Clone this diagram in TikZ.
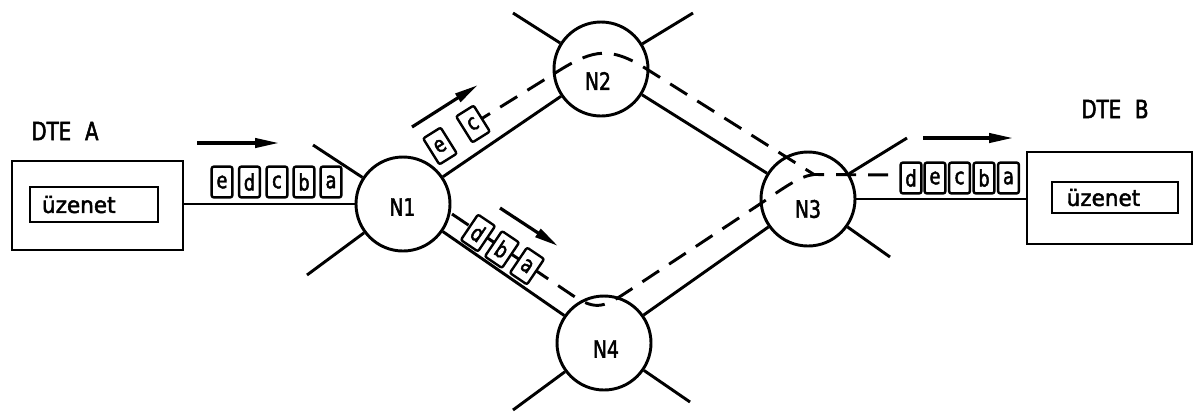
\documentclass[tikz,border=0pt]{standalone}
\usepackage{fontspec}
\setmainfont{DejaVu Sans}[FakeBold=1.6]
\newfontfamily\techfont{DejaVu Sans}[FakeStretch=0.78,WordSpace=2.2,FakeBold=2]
\newfontfamily\msgfont{DejaVu Sans}[FakeStretch=0.95,FakeBold=2]
\usetikzlibrary{arrows.meta}
\begin{document}
\begin{tikzpicture}[x=0.75pt,y=-0.75pt,line width=2.2pt,
  nodecirc/.style={circle,draw,line width=2.2pt,minimum size=70.5pt,inner sep=0pt},
  nlabel/.style={font=\techfont\fontsize{18}{18}\selectfont,inner sep=0pt},
  dtelabel/.style={font=\techfont\fontsize{19}{19}\selectfont,inner sep=0pt},
  dtebox/.style={draw,line width=2.2pt,rectangle,inner sep=0pt},
  msgbox/.style={draw,line width=2.2pt,rectangle,inner ysep=0pt,align=left,font=\msgfont\fontsize{17}{17}\selectfont},
  pkt/.style={draw,fill=white,line width=1.8pt,rounded corners=1.5pt,minimum width=15.5pt,minimum height=23pt,inner sep=0pt,font=\techfont\fontsize{17}{17}\selectfont},
  route/.style={dash pattern=on 15pt off 9pt,line width=2.2pt},
  flow/.style={-{Triangle[length=18pt,width=7pt]},line width=2.4pt}
]
\useasboundingbox (0,0) rectangle (1195,412);

% DTE boxes
\node[dtebox,minimum width=128.25pt,minimum height=66.75pt] (dteA) at (97.5,205.5) {};
\node[msgbox,text width=78pt,inner xsep=9pt,minimum height=26.25pt] (msgA) at (94,204.5) {üzenet};
\node[dtelabel] (labA) at (65,131) {DTE A};

\node[dtebox,minimum width=123.75pt,minimum height=69pt] (dteB) at (1109.5,198) {};
\node[msgbox,text width=72.5pt,inner xsep=11pt,minimum height=23.25pt] (msgB) at (1115,197.5) {üzenet};
\node[dtelabel] (labB) at (1115,109) {DTE B};

% network nodes
\node[nodecirc] (N1) at (403,204) {};
\node[nodecirc] (N2) at (601,69) {};
\node[nodecirc] (N3) at (808,199) {};
\node[nodecirc] (N4) at (604,343) {};
\node[nlabel] (N1l) at (402.5,207) {N1};
\node[nlabel] (N2l) at (598,81) {N2};
\node[nlabel] (N3l) at (808,209) {N3};
\node[nlabel] (N4l) at (606,349) {N4};

% spokes
\coordinate (s1a) at (313,145); \coordinate (s1b) at (307,275);
\coordinate (s2a) at (513,13);  \coordinate (s2b) at (693,13);
\coordinate (s3a) at (907,138); \coordinate (s3b) at (890,257);
\coordinate (s4a) at (513,410); \coordinate (s4b) at (690,402);
\draw (N1) -- (s1a); \draw (N1) -- (s1b);
\draw (N2) -- (s2a); \draw (N2) -- (s2b);
\draw (N3) -- (s3a); \draw (N3) -- (s3b);
\draw (N4) -- (s4a); \draw (N4) -- (s4b);

% links
\draw (dteA.east |- N1) -- (N1);
\draw (N1) -- (N2);
\draw (N1) -- (N4);
\draw (N2) -- (N3);
\draw (N4) -- (N3);
\draw (N3) -- (N3 -| dteB.west);

% routes (dashed)
\coordinate (u0) at (473,124);
\coordinate (u1) at (560,70);
\coordinate (u2) at (645,68);
\coordinate (join) at (814,174.5);
\coordinate (u4) at (900,175);
\draw[route] (u0) -- (u1) .. controls (594,49) and (611,47) .. (u2) -- (join) -- (u4);
\coordinate (l0) at (452,214);
\coordinate (l1) at (572,295);
\coordinate (l2) at (630,290);
\coordinate (l3) at (760,204);
\draw[route] (l0) -- (l1) .. controls (597,312) and (605,306.5) .. (l2) -- (l3) .. controls (785,187) and (800,176) .. (join);

% packets DTE A
\node[pkt] (pa1) at (222,182) {e};
\node[pkt] (pa2) at (249.5,182) {d};
\node[pkt] (pa3) at (277,182) {c};
\node[pkt] (pa4) at (304,182) {b};
\node[pkt] (pa5) at (331,182) {a};
% packets to N2
\node[pkt,rotate=32] (pu1) at (440,146) {e};
\node[pkt,rotate=32] (pu2) at (473,124) {c};
% packets to N4
\node[pkt,rotate=-34] (pl1) at (478,233) {d};
\node[pkt,rotate=-34] (pl2) at (502,249.5) {b};
\node[pkt,rotate=-34] (pl3) at (527,266) {a};
% packets DTE B
\node[pkt] (pb1) at (911,178) {d};
\node[pkt] (pb2) at (935,178) {e};
\node[pkt] (pb3) at (959.5,178) {c};
\node[pkt] (pb4) at (984,178) {b};
\node[pkt] (pb5) at (1008.5,178) {a};

% direction arrows
\coordinate (a1s) at (197,143); \coordinate (a1e) at (279,143);
\coordinate (a2s) at (412,127); \coordinate (a2e) at (478,85);
\coordinate (a3s) at (500,208); \coordinate (a3e) at (558,246);
\coordinate (a4s) at (923,138); \coordinate (a4e) at (1013,138);
\draw[flow] (a1s) -- (a1e);
\draw[flow] (a2s) -- (a2e);
\draw[flow] (a3s) -- (a3e);
\draw[flow] (a4s) -- (a4e);
\end{tikzpicture}
\end{document}
